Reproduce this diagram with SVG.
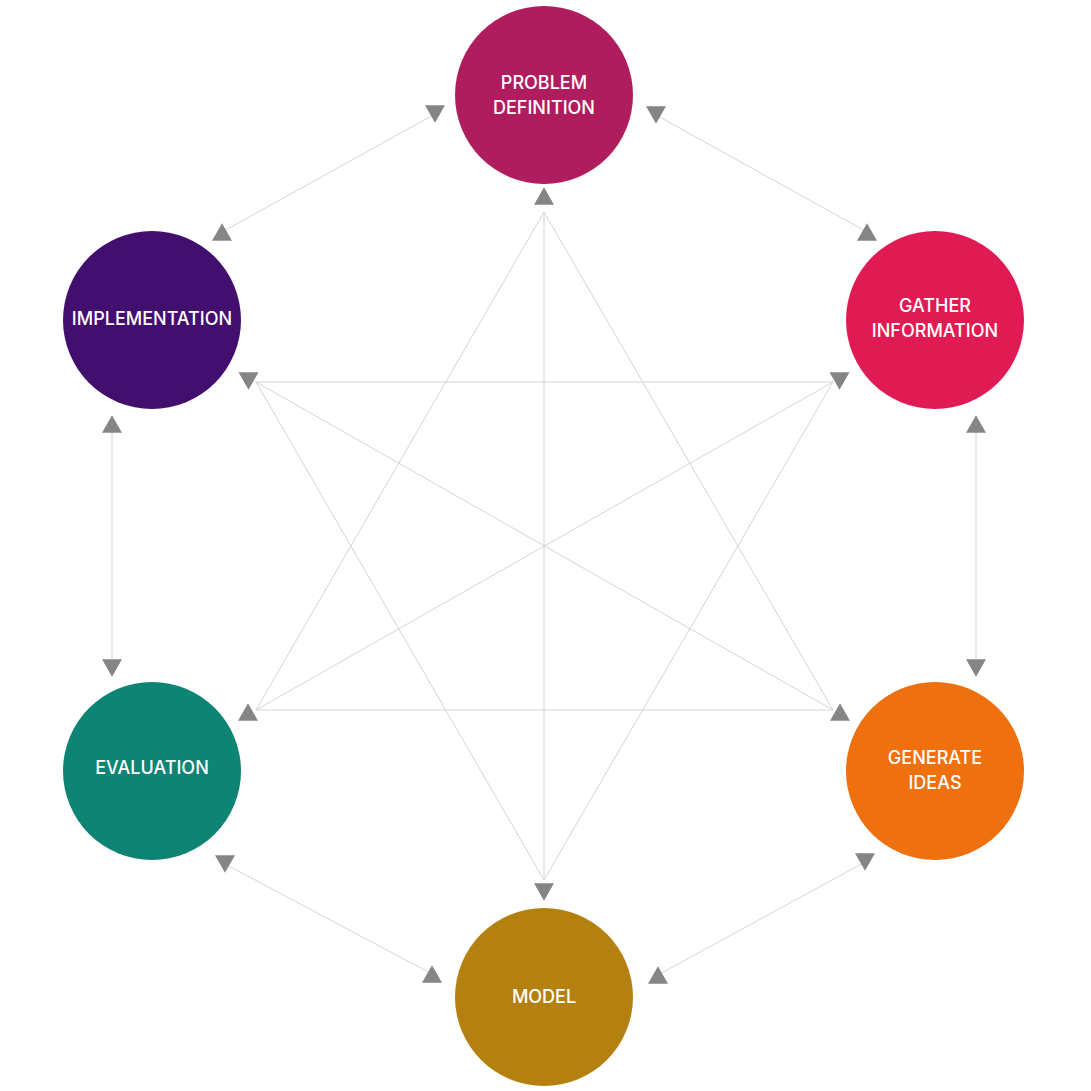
<svg xmlns="http://www.w3.org/2000/svg" xmlns:xlink="http://www.w3.org/1999/xlink" width="1091" height="1091" viewBox="0 0 1091 1091">
  <style>
    .node-label { font-family: Inter, "Noto Sans", "Liberation Sans", sans-serif; font-size: 18px; font-weight: 500; fill: #ffffff; text-anchor: middle; }
    .conn { stroke: #d4d4d4; stroke-width: 1; fill: none; }
    .head { fill: #858585; }
  </style>
  <defs>
    <path id="up" class="head" d="M0,-8.7 L10,8.7 L-10,8.7 Z"/>
    <path id="down" class="head" d="M-10,-8.7 L10,-8.7 L0,8.7 Z"/>
  </defs>
  <rect width="1091" height="1091" fill="#ffffff"/>
  <g id="connectors">
    <!-- outer hexagon -->
    <line class="conn" x1="435" y1="114" x2="222" y2="232"/>
    <line class="conn" x1="656" y1="115" x2="867" y2="232"/>
    <line class="conn" x1="112" y1="424" x2="112" y2="668"/>
    <line class="conn" x1="976" y1="424" x2="976" y2="668"/>
    <line class="conn" x1="225" y1="864" x2="432" y2="974"/>
    <line class="conn" x1="865" y1="862" x2="658" y2="975"/>
    <!-- inner star -->
    <line class="conn" x1="256" y1="382" x2="833" y2="382"/>
    <line class="conn" x1="256" y1="710" x2="833" y2="710"/>
    <line class="conn" x1="256" y1="382" x2="833" y2="710"/>
    <line class="conn" x1="833" y1="382" x2="256" y2="710"/>
    <line class="conn" x1="544" y1="212" x2="544" y2="880"/>
    <line class="conn" x1="544" y1="212" x2="256" y2="710"/>
    <line class="conn" x1="544" y1="212" x2="833" y2="710"/>
    <line class="conn" x1="256" y1="382" x2="544" y2="880"/>
    <line class="conn" x1="833" y1="382" x2="544" y2="880"/>
    <!-- arrowheads -->
    <use href="#down" x="435" y="114"/>
    <use href="#down" x="656" y="115"/>
    <use href="#up" x="222" y="232"/>
    <use href="#up" x="867" y="232"/>
    <use href="#up" x="112" y="424"/>
    <use href="#down" x="112" y="668"/>
    <use href="#up" x="976" y="424"/>
    <use href="#down" x="976" y="668"/>
    <use href="#down" x="225" y="864"/>
    <use href="#up" x="432" y="974"/>
    <use href="#down" x="865" y="862"/>
    <use href="#up" x="658" y="975"/>
    <use href="#up" x="544" y="196"/>
    <use href="#down" x="544" y="892"/>
    <use href="#down" x="248.5" y="381"/>
    <use href="#down" x="839.5" y="381"/>
    <use href="#up" x="248" y="712"/>
    <use href="#up" x="840" y="712"/>
  </g>
  <g id="problem-definition">
    <circle cx="544" cy="95" r="89" fill="#AF1D5F"/>
    <text class="node-label" x="544" y="89">PROBLEM</text>
    <text class="node-label" x="544" y="114">DEFINITION</text>
  </g>
  <g id="gather-information">
    <circle cx="935" cy="320" r="89" fill="#E01B54"/>
    <text class="node-label" x="935" y="312">GATHER</text>
    <text class="node-label" x="935" y="337">INFORMATION</text>
  </g>
  <g id="generate-ideas">
    <circle cx="935" cy="771" r="89" fill="#EE700E"/>
    <text class="node-label" x="935" y="764">GENERATE</text>
    <text class="node-label" x="935" y="789">IDEAS</text>
  </g>
  <g id="model">
    <circle cx="544" cy="997" r="89" fill="#B48110"/>
    <text class="node-label" x="544" y="1003">MODEL</text>
  </g>
  <g id="evaluation">
    <circle cx="152" cy="771" r="89" fill="#0E8474"/>
    <text class="node-label" x="152" y="774">EVALUATION</text>
  </g>
  <g id="implementation">
    <circle cx="152" cy="320" r="89" fill="#420F6E"/>
    <text class="node-label" x="152" y="325">IMPLEMENTATION</text>
  </g>
</svg>
